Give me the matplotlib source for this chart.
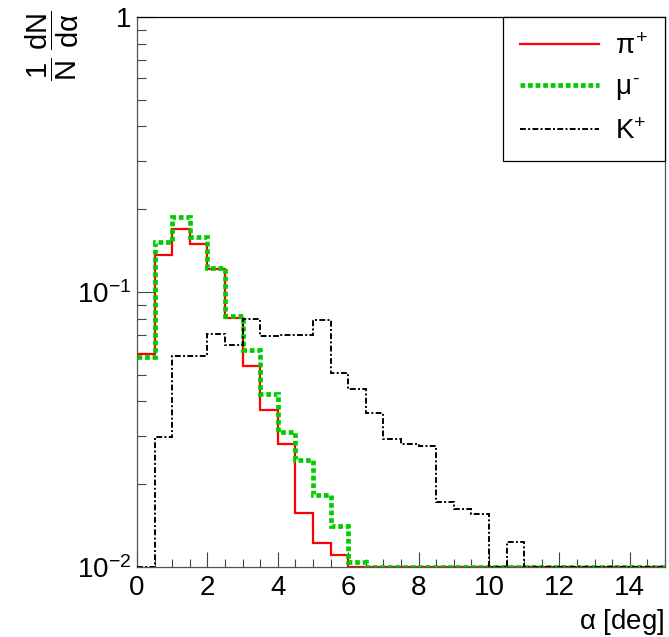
import numpy as np
import matplotlib
matplotlib.use('Agg')
import matplotlib.pyplot as plt
from matplotlib.ticker import FixedLocator, FuncFormatter, LogLocator, NullFormatter

plt.rcParams['font.family'] = ['Liberation Sans', 'DejaVu Sans']
plt.rcParams['mathtext.fontset'] = 'custom'
plt.rcParams['mathtext.rm'] = 'Liberation Sans'
plt.rcParams['mathtext.it'] = 'Liberation Sans'
plt.rcParams['mathtext.bf'] = 'Liberation Sans:bold'

# bin edges, 0.5 deg wide from 0 to 15
edges = np.arange(0, 15.01, 0.5)

# 1/N dN/dalpha per bin (0 = empty bin)
pi_plus = [0.0594, 0.1365, 0.169, 0.1496, 0.121, 0.0803, 0.0538, 0.0372, 0.0281, 0.0157,
           0.0122, 0.0111, 0, 0, 0, 0, 0, 0, 0, 0,
           0, 0, 0, 0, 0, 0, 0, 0, 0, 0]
mu_minus = [0.0582, 0.1526, 0.1873, 0.159, 0.122, 0.0818, 0.0615, 0.0426, 0.0310, 0.0245,
            0.0182, 0.0141, 0.0104, 0, 0, 0, 0, 0, 0, 0,
            0, 0, 0, 0, 0, 0, 0, 0, 0, 0]
k_plus = [0, 0.0297, 0.0587, 0.0587, 0.0703, 0.0641, 0.0796, 0.0694, 0.0697, 0.0697,
          0.079, 0.0506, 0.0443, 0.0364, 0.0293, 0.028, 0.0275, 0.0173, 0.0162, 0.0156,
          0, 0.0123, 0, 0, 0, 0, 0, 0, 0, 0]

labels = [r'$\pi^{+}$', r'$\mu^{\text{-}}$', r'$\mathrm{K}^{+}$']

ymin, ymax = 0.01, 1.0

fig = plt.figure(figsize=(6.69, 6.37), dpi=100)
ax = fig.add_axes([137 / 669, 70 / 637, 528 / 669, 550 / 637])


def clip(v):
    # empty bins are drawn on the bottom of the frame, like ROOT does
    v = np.asarray(v, dtype=float)
    return np.where(v > ymin, v, ymin)


ax.stairs(clip(pi_plus), edges, baseline=None, color='#ff0000', lw=1.6, label=labels[0], zorder=3)
ax.stairs(clip(mu_minus), edges, baseline=None, color='#00cc00', lw=3.4,
          linestyle=(0, (1.0, 0.6)), label=labels[1], zorder=4)
ax.stairs(clip(k_plus), edges, baseline=None, color='black', lw=1.4,
          linestyle=(0, (3, 1.2, 1, 1.2)), label=labels[2], zorder=5)

ax.set_yscale('log')
ax.set_xlim(0, 15)
ax.set_ylim(ymin, ymax)

ax.xaxis.set_major_locator(FixedLocator(np.arange(0, 15, 2)))
ax.xaxis.set_minor_locator(FixedLocator(np.arange(0, 15.01, 0.5)))
ax.yaxis.set_major_locator(FixedLocator([0.01, 0.1, 1]))
ax.yaxis.set_minor_locator(LogLocator(base=10, subs=np.arange(2, 10)))
ax.yaxis.set_minor_formatter(NullFormatter())


def yfmt(v, pos):
    if abs(v - 1) < 1e-9:
        return '1'
    return r'$10^{%d}$' % int(round(np.log10(v)))


ax.yaxis.set_major_formatter(FuncFormatter(yfmt))

ax.tick_params(axis='both', which='both', direction='in', top=False, right=False,
               labelsize=20, color='#444444')
ax.tick_params(axis='x', which='major', length=11, width=0.8, pad=6)
ax.tick_params(axis='x', which='minor', length=5.5, width=0.8)
ax.tick_params(axis='y', which='major', length=12, width=0.8, pad=4)
ax.tick_params(axis='y', which='minor', length=6.5, width=0.8)

for s in ax.spines.values():
    s.set_linewidth(0.9)
    s.set_color('#555555')
ax.spines['top'].set_color('black')

ax.set_xlabel(r'$\alpha$ [deg]', fontsize=20, loc='right', labelpad=4)
fig.text(52 / 669, 1 - 10 / 637, r'$\dfrac{1}{N}\;\dfrac{\mathrm{dN}}{\mathrm{d}\alpha}$',
         rotation=90, ha='center', va='top', fontsize=21)

leg = ax.legend(loc='upper right', bbox_to_anchor=(1.0, 1.0), fontsize=20,
                frameon=True, fancybox=False, framealpha=1, edgecolor='black',
                handlelength=2.85, handletextpad=0.6, borderpad=0.6,
                labelspacing=0.55, borderaxespad=0.0)
leg.get_frame().set_linewidth(0.9)

fig.savefig('out.png', dpi=100)
